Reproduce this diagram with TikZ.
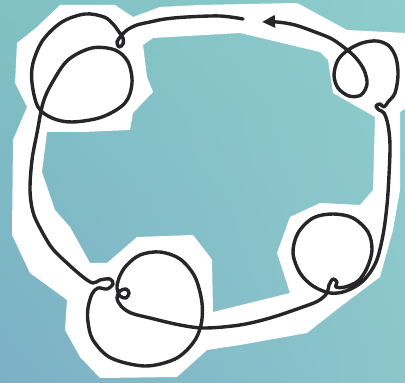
\documentclass[tikz,border=0pt]{standalone}
\usetikzlibrary{arrows.meta,shadings}
\definecolor{bgUL}{RGB}{128,193,195}
\definecolor{bgUR}{RGB}{142,204,205}
\definecolor{bgLL}{RGB}{124,176,198}
\definecolor{bgLR}{RGB}{140,198,203}
\definecolor{ink}{RGB}{38,38,40}
\tikzset{
  paper/.style={fill=white, even odd rule},
  inkline/.style={draw=ink, line width=1.7pt, line cap=round, line join=round},
}
\begin{document}
\begin{tikzpicture}[x=0.5pt,y=-0.5pt]
\useasboundingbox (0,0) rectangle (405,383);
\shade[upper left=bgUL, upper right=bgUR, lower left=bgLL, lower right=bgLR] (0,0) rectangle (405,383);
% white cut-out paper
\fill[paper]
  (60,5) -- (115,5) -- (133,17) -- (160,7) -- (200,5) -- (297,3) -- (347,30) -- (406,33)
  -- (406,108) -- (400,112) -- (400,190) -- (393,230) -- (380,277) -- (340,307)
  -- (307,333) -- (240,345) -- (207,350) -- (177,377) -- (100,378) -- (80,357)
  -- (65,330) -- (67,300) -- (30,273) -- (12,235) -- (13,140) -- (27,107)
  -- (15,83) -- (17,43) -- (37,27) -- cycle
  (143,45) -- (147,77) -- (153,92) -- (133,113) -- (130,130) -- (83,132) -- (47,132)
  -- (42,172) -- (55,210) -- (70,227) -- (90,263) -- (107,263) -- (137,237)
  -- (193,235) -- (207,253) -- (212,260) -- (213,312) -- (290,293) -- (277,253)
  -- (290,217) -- (320,203) -- (360,205) -- (373,190) -- (375,117) -- (333,93)
  -- (328,60) -- (320,52) -- (240,33) -- (153,38) -- cycle;
% the looping line
\draw[inkline, -{Triangle[length=6.5pt,width=6pt]}] plot[smooth, tension=0.55] coordinates {
  (243,19) (220,16) (187,17) (165,19) (150,22) (137,25) (127,30) (121,36) (117,42)
  (119,47) (123,44) (123,38) (119,32) (113,24) (104,17) (85,14) (62,22) (43,40)
  (33,63) (32,83) (38,107) (52,118) (72,122) (102,117) (125,103) (132,83) (128,62)
  (115,50) (92,48) (68,60) (52,83) (43,103) (37,133) (32,160) (30,190) (33,212)
  (40,228) (52,248) (67,263) (83,277) (93,283) (100,280) (110,279) (113,284)
  (107,289) (98,288) (92,294) (88,308) (88,322) (93,340) (111,358) (145,366)
  (175,359) (193,343) (201,325) (202,303) (195,277) (180,259) (160,252) (140,255)
  (126,266) (119,278) (117,288) (120,296) (126,298) (129,293) (126,289) (120,291)
  (117,298) (121,306) (131,313) (150,318) (180,325) (205,328) (240,325) (270,318)
  (300,308) (318,301) (327,293) (329,285) (333,279) (337,282) (336,287) (345,287)
  (358,281) (367,268) (372,250) (368,232) (353,218) (333,214) (313,218) (298,233)
  (293,253) (300,273) (313,286) (330,293) (346,291) (363,281) (376,262) (383,235)
  (387,205) (389,175) (390,145) (388,125) (384,113) (379,110) (376,106) (380,104)
  (384,107) (388,102) (395,93) (398,75) (396,58) (389,46) (377,41) (362,43)
  (348,50) (338,60) (334,75) (338,88) (349,96) (361,95) (367,84) (364,70)
  (356,58) (346,49) (332,39) (315,32) (295,25) (277,22) (262,22)
};
\end{tikzpicture}
\end{document}
